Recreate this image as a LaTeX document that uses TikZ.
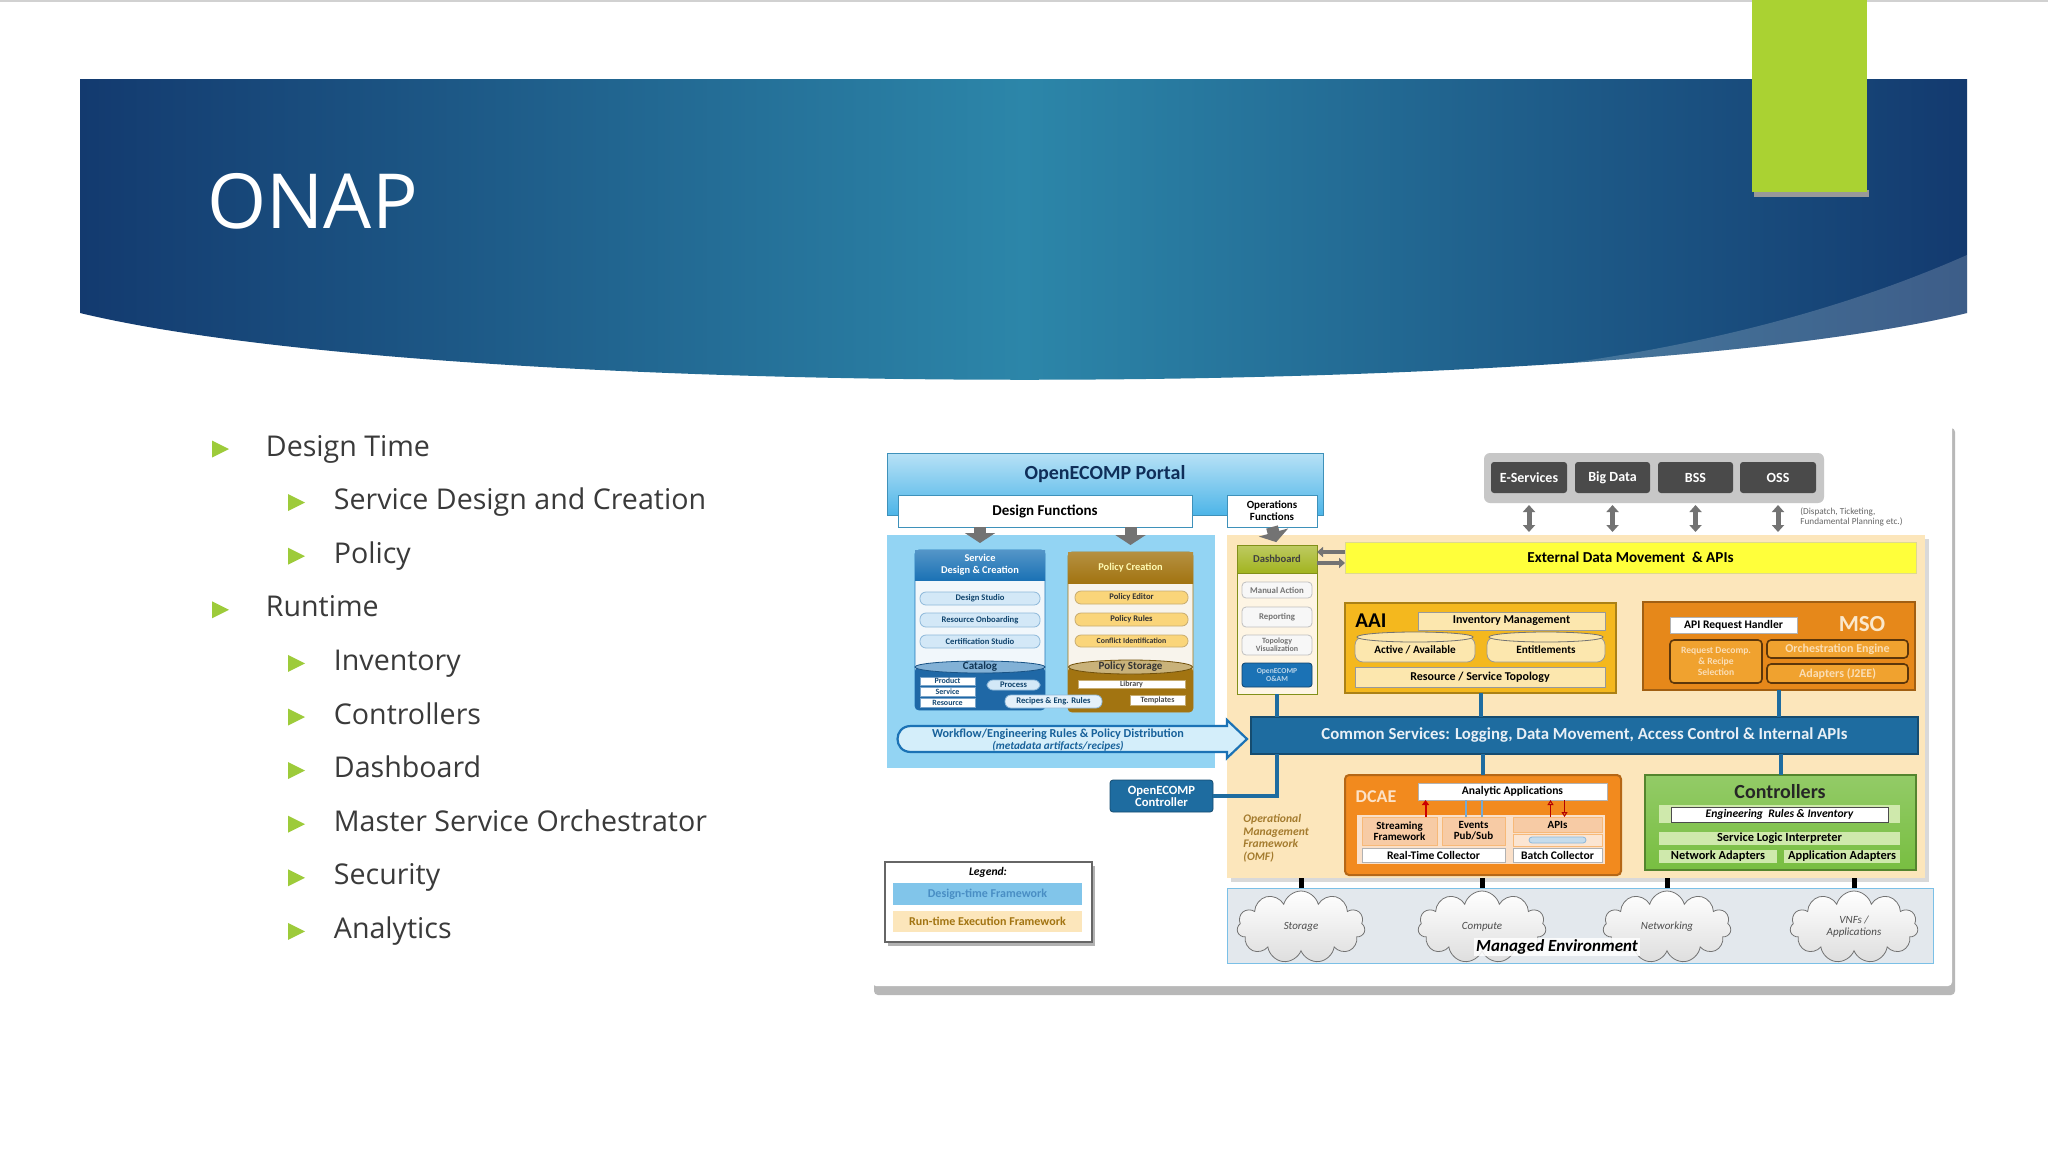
\documentclass[tikz,border=0pt]{standalone}
\usepackage{fontspec}
\setmainfont{Carlito}
\newfontfamily\slidefont{Open Sans}
\usetikzlibrary{arrows.meta,shapes.symbols}

\definecolor{bandDark}{HTML}{133A6F}
\definecolor{bandMid}{HTML}{2C86A9}
\definecolor{limeBar}{HTML}{AAD232}
\definecolor{bulletGreen}{HTML}{9DCB3A}
\definecolor{bodyText}{HTML}{3A3A3A}
\definecolor{portalBlue}{HTML}{4DB5E8}
\definecolor{designBlue}{HTML}{93D4F3}
\definecolor{runTan}{HTML}{FCE6BB}
\definecolor{sdcBlue}{HTML}{1B72B5}
\definecolor{pillBlue}{HTML}{D3E8F7}
\definecolor{catBlue}{HTML}{1F68A6}
\definecolor{polBrown}{HTML}{A27411}
\definecolor{pStoreTop}{HTML}{C9B27A}
\definecolor{pillGold}{HTML}{FAD57A}
\definecolor{commonBlue}{HTML}{1E6CA0}
\definecolor{dashOlive}{HTML}{A2B41F}
\definecolor{extYellow}{HTML}{FFFF3B}
\definecolor{aaiGold}{HTML}{F4B81E}
\definecolor{aaiLight}{HTML}{FCE7AE}
\definecolor{msoOrange}{HTML}{E6881A}
\definecolor{msoInner}{HTML}{F0A22F}
\definecolor{dcaeOrange}{HTML}{F28A1E}
\definecolor{dcaePeach}{HTML}{F7CBA5}
\definecolor{ctrlGreen}{HTML}{78BE41}
\definecolor{ctrlLight}{HTML}{CFE9AC}
\definecolor{bssGray}{HTML}{4A4A4A}
\definecolor{envGray}{HTML}{E3E8ED}
\definecolor{omfBrown}{HTML}{A47B2E}

\newcommand\fsz[2]{\fontsize{#1}{#2}\selectfont}

\begin{document}
\begin{tikzpicture}[x=0.5pt,y=0.5pt,yscale=-1,
  spans/.style args={#1/#2/#3/#4}{at={({(#1+#3)/2},{(#2+#4)/2})}, minimum width={(#3-#1)*0.5pt}, minimum height={(#4-#2)*0.5pt}},
  blk/.style={inner sep=0pt, outer sep=0pt, align=center, font=\bfseries\fsz{5}{6}},
  pill/.style={blk, rounded corners=3pt, draw=sdcBlue!50, fill=pillBlue, font=\bfseries\fsz{4.3}{5}, text=sdcBlue!60!black},
  goldpill/.style={pill, draw=polBrown!60, fill=pillGold, text=black!80},
  cellw/.style={blk, fill=white, draw=catBlue!60, font=\bfseries\fsz{4}{4.5}, text=catBlue!70!black},
  dashitem/.style={blk, rounded corners=2pt, fill=black!3, draw=black!25, font=\bfseries\fsz{4.4}{4.6}, text=black!55},
  invbar/.style={blk, draw=black!40, fill=aaiLight, font=\bfseries\fsz{6}{7}},
  msobox/.style={blk, rounded corners=2pt, fill=msoInner, draw=black!60!msoOrange, line width=0.8pt, text=msoInner!35!white, font=\bfseries\fsz{6}{6.5}},
  dcaecell/.style={blk, fill=dcaePeach, draw=dcaeOrange!60, font=\bfseries\fsz{5.5}{5.6}},
  ctrlcell/.style={blk, fill=ctrlLight, font=\bfseries\fsz{6.2}{7}},
  sysbox/.style={blk, fill=bssGray, rounded corners=1.5pt, text=white, font=\bfseries\fsz{7}{8}},
  envcloud/.style={cloud, cloud puffs=11, aspect=1.8, draw=black!55, top color=white, bottom color=black!13, minimum width=64pt, minimum height=36pt, inner sep=0pt, align=center, font=\itshape\fsz{5.5}{6}, text=black!70},
  fatarrow/.style={draw=black!55, line width=6pt, -{Triangle[width=15pt,length=5pt]}},
  twoway/.style={draw=black!55, line width=2.5pt, {Triangle[width=6pt,length=3.5pt]}-{Triangle[width=6pt,length=3.5pt]}},
  bus/.style={draw=commonBlue, line width=2pt},
  stub/.style={draw=black, line width=2.5pt}]

% page
\fill[white] (0,0) rectangle (2048,1152);
\useasboundingbox (0,0) rectangle (2048,1152);
\fill[black!18] (0,0) rectangle (2048,2);

% title band
\shade[left color=bandDark, right color=bandDark, middle color=bandMid]
  (80,79) -- (1967,79) -- (1967,313) .. controls (1600,402) and (450,402) .. (80,313) -- cycle;
\begin{scope}
  \clip (80,79) -- (1967,79) -- (1967,313) .. controls (1600,402) and (450,402) .. (80,313) -- cycle;
  \fill[white, opacity=0.18] (1967,255) .. controls (1820,320) and (1640,362) .. (1430,378) -- (1430,420) -- (1967,420) -- cycle;
\end{scope}
\fill[black!40] (1754,190) rectangle (1869,197);
\fill[limeBar] (1752,0) rectangle (1867,192);
\node[anchor=base west, inner sep=0pt, text=white, font=\slidefont\fsz{38}{40}] (title) at (207,228) {ONAP};

% bullet list
\foreach \lvl/\txt [count=\i from 0] in {1/Design Time, 2/Service Design and Creation, 2/Policy, 1/Runtime, 2/Inventory, 2/Controllers, 2/Dashboard, 2/Master Service Orchestrator, 2/Security, 2/Analytics}{
  \pgfmathsetmacro\bx{\lvl==1 ? 212 : 288}
  \pgfmathsetmacro\tx{\lvl==1 ? 265.5 : 333.5}
  \pgfmathsetmacro\by{449+53.6*\i}
  \fill[bulletGreen] (\bx,\by-8.5) -- ++(17,8.5) -- ++(-17,8.5) -- cycle;
  \node[anchor=base west, inner sep=0pt, text=bodyText, font=\slidefont\fsz{14.3}{16}] (item\i) at (\tx,\by+7) {\txt};
}

% diagram panel
\fill[black!28, rounded corners=2pt] (874,428) rectangle (1955,995);
\fill[white, rounded corners=2pt] (872,418) rectangle (1952,986);

% design time / run time areas
\node[blk, fill=designBlue, spans=887/535/1215/768] (dt) {};
\fill[black!15] (1231,539) rectangle (1929,882);
\node[blk, fill=runTan, spans=1227/535/1925/878] (rt) {};

% portal
\node[blk, top color=portalBlue!40!white, bottom color=portalBlue, draw=portalBlue!80!black, spans=887/453/1323/515] (portal) {};
\node[font=\bfseries\fsz{10}{11}, text=bandDark!80!black, inner sep=0pt] (portalLbl) at (1105,474) {OpenECOMP Portal};
\node[blk, fill=white, draw=portalBlue!80!black, font=\bfseries\fsz{7.5}{8}, spans=898/495/1192/527] (dfunc) {Design Functions};
\node[blk, fill=white, draw=portalBlue!80!black, font=\bfseries\fsz{5.5}{6}, spans=1227/495/1317/527] (ofunc) {Operations\\Functions};

% service design & creation
\node[blk, fill=sdcBlue!6, draw=sdcBlue, rounded corners=2pt, spans=915/550/1045/710] (sdc) {};
\node[blk, top color=sdcBlue!75, bottom color=sdcBlue, text=white, font=\bfseries\fsz{5.2}{6}, spans=915/550/1045/580] (sdcHead) {Service\\Design \& Creation};
\node[pill, spans=920/592/1040/605] (dstudio) {Design Studio};
\node[pill, spans=920/613/1040/627] (onboard) {Resource Onboarding};
\node[pill, spans=920/635/1040/648] (certif) {Certification Studio};
\node[blk, fill=catBlue, rounded corners=2pt, spans=915/667/1045/710] (cat) {};
\draw[catBlue!80!black, fill=sdcBlue!55] (cat.north) ellipse [x radius=32.5pt, y radius=3pt];
\node[font=\bfseries\fsz{5.5}{6}, text=catBlue!50!black, inner sep=0pt] (catLbl) at (cat.north) {Catalog};
\node[cellw, spans=920/677/975/685] (product) {Product};
\node[cellw, spans=920/687/975/696] (service) {Service};
\node[cellw, spans=920/698/975/707] (resource) {Resource};
\node[pill, spans=987/680/1040/690] (process) {Process};

% policy creation
\node[blk, fill=polBrown!8, draw=polBrown, rounded corners=2pt, spans=1068/552/1193/712] (pol) {};
\node[blk, top color=polBrown!80, bottom color=polBrown, text=yellow!30, font=\bfseries\fsz{5.2}{6}, spans=1068/552/1193/583] (polHead) {Policy Creation};
\node[goldpill, spans=1075/591/1188/604] (peditor) {Policy Editor};
\node[goldpill, spans=1075/613/1188/626] (prules) {Policy Rules};
\node[goldpill, spans=1075/635/1188/647, font=\bfseries\fsz{3.9}{4.5}] (pconf) {Conflict Identification};
\node[blk, fill=polBrown, rounded corners=2pt, spans=1068/667/1193/712] (pstore) {};
\draw[polBrown!70!black, fill=pStoreTop] (pstore.north) ellipse [x radius=31pt, y radius=3.5pt];
\node[font=\bfseries\fsz{5.5}{6}, text=black!80, inner sep=0pt] (pstoreLbl) at (pstore.north) {Policy Storage};
\node[cellw, draw=polBrown!60, text=black!70, spans=1078/680/1185/688] (lib) {Library};
\node[cellw, draw=polBrown!60, text=black!70, spans=1130/695/1185/705] (tmpl) {Templates};
\node[pill, fill=pillBlue!60!white, spans=1005/695/1102/708] (recipes) {Recipes \& Eng. Rules};

\draw[fatarrow, shorten >=3.5pt] (dfunc.south -| sdc.north) -- (sdc.north);
\draw[fatarrow, shorten >=3.5pt] (dfunc.south -| pol.north) -- (pol.north);

% distribution arrow
\draw[draw=sdcBlue, line width=1.1pt, fill=designBlue!40!white]
  (911,726) -- (1227,726) -- (1227,720) -- (1247,739) -- (1227,758) -- (1227,752) -- (911,752)
  .. controls (893,752) and (893,726) .. (911,726) -- cycle;
\node[font=\bfseries\fsz{6.1}{7}, text=sdcBlue!85!black, inner sep=0pt] (wfLbl) at (1058,734) {Workflow/Engineering Rules \& Policy Distribution};
\node[font=\bfseries\itshape\fsz{5.6}{6}, text=sdcBlue!85!black, inner sep=0pt] (wfSub) at (1058,746) {(metadata artifacts/recipes)};

% controller and legend
\node[blk, fill=commonBlue, draw=commonBlue!70!black, rounded corners=1.5pt, text=white, font=\bfseries\fsz{6.3}{6}, spans=1110/780/1213/812] (oc) {OpenECOMP\\Controller};
\fill[black!30] (888,866) rectangle (1095,946);
\node[blk, fill=white, draw=black!60, line width=0.8pt, spans=885/862/1092/942] (leg) {};
\node[font=\bfseries\itshape\fsz{5.8}{6}, inner sep=0pt] (legLbl) at (988,872) {Legend:};
\node[blk, fill=designBlue!85!sdcBlue, text=sdcBlue!80, font=\bfseries\fsz{6}{6}, spans=893/883/1082/905] (legDt) {Design-time Framework};
\node[blk, fill=runTan, text=polBrown, font=\bfseries\fsz{6}{6}, spans=893/911/1082/932] (legRt) {Run-time Execution Framework};

% dashboard
\node[blk, fill=runTan!40!white, draw=dashOlive!80!black, spans=1237/545/1317/694] (dash) {};
\node[blk, top color=dashOlive!70!white, bottom color=dashOlive, draw=dashOlive!80!black, font=\bfseries\fsz{5.3}{6}, text=black!75, spans=1237/545/1317/573] (dashHead) {Dashboard};
\node[dashitem, spans=1242/582/1312/598] (manual) {Manual Action};
\node[dashitem, spans=1242/607/1312/627] (report) {Reporting};
\node[dashitem, spans=1242/635/1312/655, font=\bfseries\fsz{4}{4.2}] (topo) {Topology\\Visualization};
\node[blk, rounded corners=1.5pt, fill=sdcBlue, draw=sdcBlue!60!black, text=white!70!sdcBlue, font=\bfseries\fsz{3.8}{4.2}, spans=1242/663/1312/687] (oam) {OpenECOMP\\O\&AM};
\draw[fatarrow, shorten >=1.5pt] (ofunc.south) -- (dash.north);

% external systems
\node[blk, fill=black!22, rounded corners=3pt, spans=1484/453/1824/503] (bin) {};
\node[sysbox, spans=1491/462/1567/493] (esvc) {E-Services};
\node[sysbox, spans=1575/462/1650/493] (bigdata) {Big Data};
\node[sysbox, spans=1658/462/1733/493] (bss) {BSS};
\node[sysbox, spans=1740/462/1816/493] (oss) {OSS};
\node[anchor=west, align=left, inner sep=0pt, font=\fsz{4.6}{5.2}, text=black!60] (note) at (1800,517) {(Dispatch, Ticketing,\\Fundamental Planning etc.)};
\node[blk, fill=extYellow, draw=yellow!70!black!50, font=\bfseries\fsz{7.6}{8}, spans=1345/542/1916/573] (extbar) {External Data Movement \ \& APIs};
\foreach \s in {esvc,bigdata,bss,oss}
  \draw[twoway, shorten <=6pt, shorten >=5pt] (\s.south) -- (\s.south |- extbar.north);
\draw[draw=black!55, line width=2pt, -{Triangle[width=5pt,length=3pt]}] (extbar.west |- 0,552) -- (dash.east |- 0,552);
\draw[draw=black!55, line width=2pt, -{Triangle[width=5pt,length=3pt]}] (dash.east |- 0,563) -- (extbar.west |- 0,563);

% AAI
\node[blk, fill=aaiGold, draw=aaiGold!70!black, line width=1pt, spans=1345/603/1616/693] (aai) {};
\node[font=\bfseries\fsz{10.5}{11}, inner sep=0pt] (aaiLbl) at (1371,621) {AAI};
\node[invbar, spans=1418/612/1605/630] (invm) {Inventory Management};
\node[invbar, rounded corners=4pt, font=\bfseries\fsz{5.6}{6}, spans=1355/637/1475/662] (actv) {Active / Available};
\draw[black!55, fill=aaiLight] (actv.north) ellipse [x radius=29pt, y radius=2.5pt];
\node[invbar, rounded corners=4pt, font=\bfseries\fsz{5.6}{6}, spans=1487/637/1605/662] (entl) {Entitlements};
\draw[black!55, fill=aaiLight] (entl.north) ellipse [x radius=28.5pt, y radius=2.5pt];
\node[invbar, spans=1355/667/1605/687] (rst) {Resource / Service Topology};

% MSO
\node[blk, fill=msoOrange, draw=msoOrange!70!black, line width=1pt, spans=1643/602/1915/690] (mso) {};
\node[blk, fill=white, draw=black!30, font=\bfseries\fsz{5.8}{6}, spans=1670/617/1797/633] (apih) {API Request Handler};
\node[font=\bfseries\fsz{11.5}{12}, text=msoInner!25!white, inner sep=0pt] (msoLbl) at (1862,624) {MSO};
\node[msobox, font=\bfseries\fsz{4.8}{5.6}, spans=1670/640/1762/683] (rdec) {Request Decomp.\\\& Recipe\\Selection};
\node[msobox, spans=1767/640/1908/658] (orch) {Orchestration Engine};
\node[msobox, spans=1767/664/1908/683] (adapt) {Adapters (J2EE)};

% common services bus
\node[blk, fill=commonBlue, draw=commonBlue!70!black, line width=1pt, text=white!90!commonBlue, font=\bfseries\fsz{8.4}{9}, spans=1251/717/1918/754] (common) {Common Services: Logging, Data Movement, Access Control \& Internal APIs};
\draw[bus] (dash.south) -- (dash.south |- common.north);
\draw[bus] (aai.south) -- (aai.south |- common.north);
\draw[bus] (mso.south) -- (mso.south |- common.north);
\draw[bus] (dash.south |- common.south) |- (oc.east);

% OMF
\node[anchor=north west, align=left, inner sep=0pt, font=\bfseries\itshape\fsz{5.8}{6.3}, text=omfBrown] (omf) at (1243,814) {Operational\\Management\\Framework\\(OMF)};

% DCAE
\node[blk, fill=dcaeOrange, draw=dcaeOrange!75!black, line width=1pt, rounded corners=2pt, spans=1345/775/1621/875] (dcae) {};
\draw[bus] (dcae.north |- common.south) -- (dcae.north);
\node[font=\bfseries\fsz{9}{10}, text=dcaeOrange!25!white, inner sep=0pt] (dcaeLbl) at (1376,797) {DCAE};
\node[blk, fill=white, draw=black!30, font=\bfseries\fsz{5.8}{6}, spans=1418/783/1607/800] (anapp) {Analytic Applications};
\node[blk, fill=dcaePeach!60!white, spans=1357/815/1605/864] (dcaeIn) {};
\node[dcaecell, spans=1362/817/1437/845] (stream) {Streaming\\Framework};
\node[dcaecell, spans=1442/817/1505/845] (events) {Events\\Pub/Sub};
\node[dcaecell, spans=1513/817/1602/832] (apis) {APIs};
\node[blk, fill=dcaePeach!50!white, draw=dcaeOrange!60, spans=1513/834/1602/846] (apiStore) {};
\fill[sdcBlue!25, draw=sdcBlue!50, rounded corners=1.5pt] (1529,837) rectangle (1586,843);
\node[blk, fill=white, draw=black!30, font=\bfseries\fsz{5.8}{6}, spans=1362/848/1505/862] (rtc) {Real-Time Collector};
\node[blk, fill=white, draw=black!30, font=\bfseries\fsz{5.8}{6}, spans=1513/848/1602/862] (bcol) {Batch Collector};
\draw[red!80!black, line width=1pt, -{Triangle[width=3.5pt,length=2.5pt]}] ([xshift=13pt]stream.north) -- ([xshift=13pt]stream.north |- anapp.south);
\draw[sdcBlue!60, line width=1pt] ([xshift=-4pt]events.north) -- ([xshift=-4pt]events.north |- anapp.south);
\draw[sdcBlue!60, line width=1pt] ([xshift=4pt]events.north) -- ([xshift=4pt]events.north |- anapp.south);
\draw[red!70!black, line width=0.5pt, -{Triangle[open,width=3pt,length=2.5pt]}] ([xshift=-3.5pt]apis.north) -- ([xshift=-3.5pt]apis.north |- anapp.south);
\draw[red!70!black, line width=0.5pt, {Triangle[open,width=3pt,length=2.5pt]}-] ([xshift=3.5pt]apis.north) -- ([xshift=3.5pt]apis.north |- anapp.south);

% controllers
\node[blk, top color=ctrlGreen!80!white, bottom color=ctrlGreen, draw=ctrlGreen!70!black, line width=1pt, spans=1645/775/1916/870] (ctrl) {};
\draw[bus] (ctrl.north |- common.south) -- (ctrl.north);
\node[font=\bfseries\fsz{10}{11}, text=black!85, inner sep=0pt] (ctrlLbl) at (1780,792) {Controllers};
\node[ctrlcell, spans=1659/805/1900/823] (engStrip) {};
\node[blk, fill=white, draw=black!70, font=\bfseries\itshape\fsz{5.8}{6}, spans=1671/807/1888/822] (eng) {Engineering \ Rules \& Inventory};
\node[ctrlcell, spans=1659/832/1900/845] (sli) {Service Logic Interpreter};
\node[ctrlcell, spans=1659/850/1777/863] (netad) {Network Adapters};
\node[ctrlcell, spans=1784/850/1900/863] (appad) {Application Adapters};

% managed environment
\node[blk, fill=envGray, draw=designBlue!80!sdcBlue, spans=1227/888/1933/963] (env) {};
\node[envcloud] (storage) at (1301,927) {Storage};
\node[envcloud] (compute) at (1482,927) {Compute};
\node[envcloud] (netw) at (1667,927) {Networking};
\node[envcloud] (vnf) at (1854,927) {VNFs /\\Applications};
\node[fill=white, fill opacity=0.85, text opacity=1, inner sep=1pt, font=\bfseries\itshape\fsz{8.5}{9}] (menv) at (1557,947) {Managed Environment};
\foreach \c in {storage,compute,netw,vnf}
  \draw[stub] (\c.north |- rt.south) -- (\c.north |- env.north);
\end{tikzpicture}
\end{document}
